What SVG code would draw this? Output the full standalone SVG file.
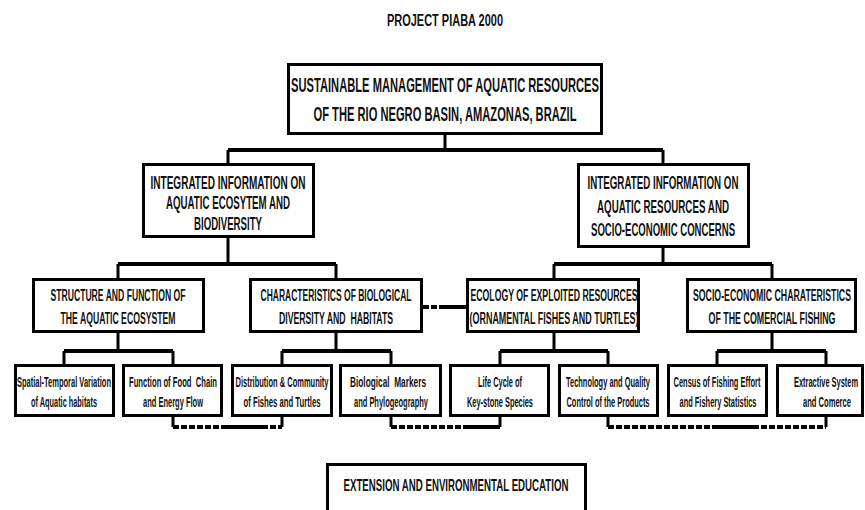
<svg xmlns="http://www.w3.org/2000/svg" width="865" height="510" viewBox="0 0 865 510">
<style>
.box{fill:#fff;stroke:#000;stroke-width:3}
.t{font-family:"Liberation Sans",Arial,sans-serif;font-weight:bold;fill:#111;text-anchor:middle}
.ti{font-size:11px}
.t0{font-size:11px}
.t1{font-size:9.5px}
.t2{font-size:8px}
.t3{font-size:6.5px}
.tb{font-size:9px}
.c{fill:none;stroke:#000;stroke-width:4}
.cv{fill:none;stroke:#000;stroke-width:3}
.d{fill:none;stroke:#000;stroke-width:4;stroke-dasharray:6 2}
</style>
<rect width="865" height="510" fill="#fff"/>
<text class="t ti" transform="translate(445 26) scale(1 1.45)" textLength="116" lengthAdjust="spacingAndGlyphs">PROJECT PIABA 2000</text>
<g id="connectors">
<path class="cv" d="M445 135V150M228 150V163M663 150V163"/>
<path class="c" d="M228 150H663"/>
<path class="cv" d="M228 238V264M118 264V278M336 264V278M663 248V264M554 264V278M772 264V278"/>
<path class="c" d="M118 264H336M554 264H772"/>
<path class="cv" d="M118 333V351M64 351V364M173 351V364M336 333V351M282 351V364M391 351V364"/>
<path class="cv" d="M554 333V351M500 351V364M608 351V364M772 333V351M717 351V364M826 351V364"/>
<path class="c" d="M64 351H173M282 351H391M500 351H608M717 351H826"/>
<path class="d" d="M423 307H445"/>
<path class="c" d="M445 307H466"/>
<path class="cv" d="M173 417V427M282 417V427M391 417V427M500 417V427M608 417V427M826 417V427"/>
<path class="d" d="M173 427H227M262 427H282M391 427H467M608 427H713M753 427H826"/>
<path class="c" d="M227 427H262M467 427H500M713 427H753"/>
</g>
<g id="n-root">
<rect class="box" x="288.5" y="64.5" width="313" height="69"/>
<text class="t t0" transform="translate(445 92) scale(1 1.8)" textLength="308" lengthAdjust="spacingAndGlyphs">SUSTAINABLE MANAGEMENT OF AQUATIC RESOURCES</text>
<text class="t t0" transform="translate(445 121) scale(1 1.8)" textLength="263" lengthAdjust="spacingAndGlyphs">OF THE RIO NEGRO BASIN, AMAZONAS, BRAZIL</text>
</g>
<g id="n-eco">
<rect class="box" x="143.5" y="164.5" width="170" height="72"/>
<text class="t t1" transform="translate(228 188.5) scale(1 1.9)" textLength="155" lengthAdjust="spacingAndGlyphs">INTEGRATED INFORMATION ON</text>
<text class="t t1" transform="translate(228 208.5) scale(1 1.9)" textLength="124" lengthAdjust="spacingAndGlyphs">AQUATIC ECOSYTEM AND</text>
<text class="t t1" transform="translate(228 230) scale(1 1.9)" textLength="68" lengthAdjust="spacingAndGlyphs">BIODIVERSITY</text>
</g>
<g id="n-res">
<rect class="box" x="578.5" y="164.5" width="170" height="82"/>
<text class="t t1" transform="translate(663 188.5) scale(1 1.9)" textLength="151" lengthAdjust="spacingAndGlyphs">INTEGRATED INFORMATION ON</text>
<text class="t t1" transform="translate(663 212.5) scale(1 1.9)" textLength="132" lengthAdjust="spacingAndGlyphs">AQUATIC RESOURCES AND</text>
<text class="t t1" transform="translate(663 236) scale(1 1.9)" textLength="144" lengthAdjust="spacingAndGlyphs">SOCIO-ECONOMIC CONCERNS</text>
</g>
<g id="n-struct">
<rect class="box" x="33.5" y="279.5" width="170" height="52"/>
<text class="t t2" transform="translate(118 301) scale(1 2.1)" textLength="135" lengthAdjust="spacingAndGlyphs">STRUCTURE AND FUNCTION OF</text>
<text class="t t2" transform="translate(118 324) scale(1 2.1)" textLength="115" lengthAdjust="spacingAndGlyphs">THE AQUATIC ECOSYSTEM</text>
</g>
<g id="n-char">
<rect class="box" x="250.5" y="279.5" width="171" height="52"/>
<text class="t t2" transform="translate(336 301) scale(1 2.1)" textLength="151" lengthAdjust="spacingAndGlyphs">CHARACTERISTICS OF BIOLOGICAL</text>
<text class="t t2" transform="translate(336 324) scale(1 2.1)" textLength="114" lengthAdjust="spacingAndGlyphs" xml:space="preserve">DIVERSITY AND  HABITATS</text>
</g>
<g id="n-ecol">
<rect class="box" x="467.5" y="279.5" width="171" height="52"/>
<text class="t t2" transform="translate(554 301) scale(1 2.1)" textLength="167" lengthAdjust="spacingAndGlyphs">ECOLOGY OF EXPLOITED RESOURCES</text>
<text class="t t2" transform="translate(554 324) scale(1 2.1)" textLength="169" lengthAdjust="spacingAndGlyphs">(ORNAMENTAL FISHES AND TURTLES)</text>
</g>
<g id="n-socio">
<rect class="box" x="687.5" y="279.5" width="168" height="52"/>
<text class="t t2" transform="translate(772 301) scale(1 2.1)" textLength="158" lengthAdjust="spacingAndGlyphs">SOCIO-ECONOMIC CHARATERISTICS</text>
<text class="t t2" transform="translate(772 324) scale(1 2.1)" textLength="127" lengthAdjust="spacingAndGlyphs">OF THE COMERCIAL FISHING</text>
</g>
<g id="n-spatial">
<rect class="box" x="15.5" y="365.5" width="98" height="50"/>
<text class="t t3" transform="translate(64 387) scale(1 2.15)" textLength="94" lengthAdjust="spacingAndGlyphs">Spatial-Temporal Variation</text>
<text class="t t3" transform="translate(64 407) scale(1 2.15)" textLength="66" lengthAdjust="spacingAndGlyphs">of Aquatic habitats</text>
</g>
<g id="n-food">
<rect class="box" x="123.5" y="365.5" width="98" height="50"/>
<text class="t t3" transform="translate(173 387) scale(1 2.15)" textLength="88" lengthAdjust="spacingAndGlyphs" xml:space="preserve">Function of Food  Chain</text>
<text class="t t3" transform="translate(173 407) scale(1 2.15)" textLength="60" lengthAdjust="spacingAndGlyphs">and Energy Flow</text>
</g>
<g id="n-dist">
<rect class="box" x="232.5" y="365.5" width="99" height="50"/>
<text class="t t3" transform="translate(282 387) scale(1 2.15)" textLength="93" lengthAdjust="spacingAndGlyphs">Distribution &amp; Community</text>
<text class="t t3" transform="translate(282 407) scale(1 2.15)" textLength="77" lengthAdjust="spacingAndGlyphs">of Fishes and Turtles</text>
</g>
<g id="n-bio">
<rect class="box" x="340.5" y="365.5" width="100" height="50"/>
<text class="t t3" transform="translate(388 387) scale(1 2.15)" textLength="76" lengthAdjust="spacingAndGlyphs" xml:space="preserve">Biological  Markers</text>
<text class="t t3" transform="translate(391 407) scale(1 2.15)" textLength="74" lengthAdjust="spacingAndGlyphs">and Phylogeography</text>
</g>
<g id="n-life">
<rect class="box" x="450.5" y="365.5" width="98" height="50"/>
<text class="t t3" transform="translate(500 387) scale(1 2.15)" textLength="44" lengthAdjust="spacingAndGlyphs">Life Cycle of</text>
<text class="t t3" transform="translate(500 407) scale(1 2.15)" textLength="66" lengthAdjust="spacingAndGlyphs">Key-stone Species</text>
</g>
<g id="n-tech">
<rect class="box" x="559.5" y="365.5" width="98" height="50"/>
<text class="t t3" transform="translate(608 387) scale(1 2.15)" textLength="84" lengthAdjust="spacingAndGlyphs">Technology and Quality</text>
<text class="t t3" transform="translate(608 407) scale(1 2.15)" textLength="83" lengthAdjust="spacingAndGlyphs">Control of the Products</text>
</g>
<g id="n-census">
<rect class="box" x="668.5" y="365.5" width="98" height="50"/>
<text class="t t3" transform="translate(717 387) scale(1 2.15)" textLength="87" lengthAdjust="spacingAndGlyphs">Census of Fishing Effort</text>
<text class="t t3" transform="translate(718 407) scale(1 2.15)" textLength="77" lengthAdjust="spacingAndGlyphs">and Fishery Statistics</text>
</g>
<g id="n-extr">
<rect class="box" x="777.5" y="365.5" width="85" height="50"/>
<text class="t t3" transform="translate(826 387) scale(1 2.15)" textLength="64" lengthAdjust="spacingAndGlyphs">Extractive System</text>
<text class="t t3" transform="translate(827 407) scale(1 2.15)" textLength="48" lengthAdjust="spacingAndGlyphs">and Comerce</text>
</g>
<g id="n-ext">
<rect class="box" x="327.5" y="464.5" width="258" height="60"/>
<text class="t tb" transform="translate(456 491) scale(1 1.9)" textLength="225" lengthAdjust="spacingAndGlyphs">EXTENSION AND ENVIRONMENTAL EDUCATION</text>
</g>
</svg>
